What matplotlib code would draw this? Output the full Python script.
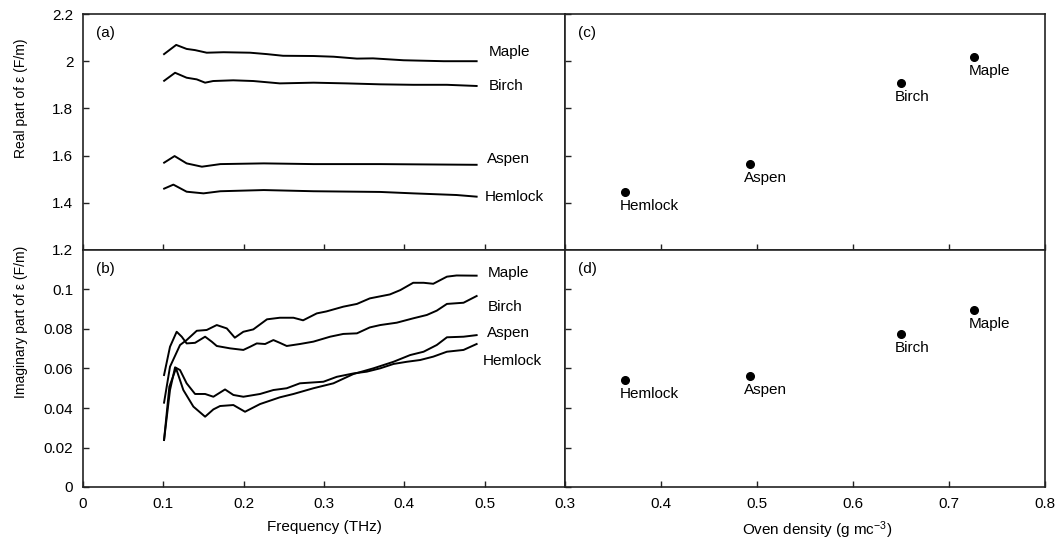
import matplotlib
matplotlib.use("Agg")
import matplotlib.pyplot as plt
import numpy as np

plt.rcParams["font.family"] = ["Liberation Sans", "DejaVu Sans"]
plt.rcParams["mathtext.default"] = "regular"

# ---------------------------------------------------------
# data
# ---------------------------------------------------------

species = ["Hemlock", "Aspen", "Birch", "Maple"]
density = [0.3625, 0.4927, 0.6497, 0.7264]
real_mean = [1.447, 1.564, 1.909, 2.019]
imag_mean = [0.0542, 0.0562, 0.0775, 0.0896]

# (a) real part vs frequency
maple_re_f = [0.1009, 0.116, 0.129, 0.1395, 0.154, 0.175, 0.208, 0.229, 0.249,
              0.287, 0.312, 0.341, 0.361, 0.399, 0.449, 0.490]
maple_re = [2.030, 2.069, 2.052, 2.047, 2.036, 2.038, 2.036, 2.030, 2.023,
            2.022, 2.019, 2.011, 2.012, 2.004, 2.000, 2.000]

birch_re_f = [0.101, 0.1146, 0.129, 0.1416, 0.152, 0.162, 0.187, 0.212, 0.245,
              0.287, 0.328, 0.370, 0.411, 0.453, 0.490]
birch_re = [1.917, 1.951, 1.930, 1.923, 1.909, 1.916, 1.919, 1.916, 1.906,
            1.909, 1.906, 1.902, 1.900, 1.900, 1.895]

aspen_re_f = [0.101, 0.114, 0.129, 0.148, 0.171, 0.225, 0.287, 0.370, 0.490]
aspen_re = [1.570, 1.598, 1.567, 1.553, 1.564, 1.567, 1.564, 1.564, 1.561]

hemlock_re_f = [0.101, 0.1125, 0.129, 0.150, 0.171, 0.225, 0.287, 0.370, 0.411,
                0.465, 0.490]
hemlock_re = [1.460, 1.477, 1.447, 1.440, 1.449, 1.454, 1.449, 1.446, 1.440,
              1.433, 1.426]

# (b) imaginary part vs frequency
maple_im_f = [0.1009, 0.1083, 0.1208, 0.129, 0.1416, 0.154, 0.1665, 0.179, 0.189,
              0.1996, 0.212, 0.229, 0.245, 0.262, 0.274, 0.291, 0.303, 0.324,
              0.341, 0.357, 0.382, 0.395, 0.411, 0.424, 0.436, 0.453, 0.465, 0.490]
maple_im = [0.0427, 0.0609, 0.0719, 0.0744, 0.0791, 0.0795, 0.0820, 0.0803, 0.0756,
            0.0786, 0.0798, 0.0849, 0.0857, 0.0857, 0.0844, 0.0879, 0.0889, 0.0913,
            0.0927, 0.0955, 0.0975, 0.0997, 0.1034, 0.1034, 0.1029, 0.1065, 0.1071,
            0.1070]

birch_im_f = [0.1009, 0.1083, 0.1166, 0.1229, 0.129, 0.1395, 0.152, 0.1602, 0.1665,
              0.1831, 0.1996, 0.208, 0.2163, 0.2267, 0.237, 0.245, 0.2536, 0.270,
              0.2868, 0.3076, 0.324, 0.341, 0.357, 0.370, 0.3906, 0.411, 0.428,
              0.4404, 0.453, 0.4737, 0.490]
birch_im = [0.0567, 0.0710, 0.0786, 0.0761, 0.0727, 0.0730, 0.0761, 0.0736, 0.0714,
            0.0702, 0.0694, 0.0710, 0.0727, 0.0724, 0.0744, 0.0730, 0.0714, 0.0724,
            0.0736, 0.0761, 0.0775, 0.0778, 0.0808, 0.0820, 0.0832, 0.0854, 0.0871,
            0.0893, 0.0927, 0.0933, 0.0967]

hemlock_im_f = [0.1009, 0.1083, 0.1146, 0.1208, 0.129, 0.1395, 0.152, 0.1623, 0.1768,
                0.1872, 0.1996, 0.2204, 0.237, 0.2536, 0.270, 0.2993, 0.316, 0.3366,
                0.3533, 0.370, 0.3865, 0.403, 0.4197, 0.436, 0.453, 0.4737, 0.490]
hemlock_im = [0.0238, 0.0491, 0.0606, 0.0592, 0.0525, 0.0471, 0.0471, 0.0457, 0.0494,
              0.0466, 0.0457, 0.0471, 0.0491, 0.0500, 0.0525, 0.0533, 0.0558, 0.0575,
              0.0584, 0.0601, 0.0623, 0.0634, 0.0643, 0.0660, 0.0685, 0.0694, 0.0724]

aspen_im_f = [0.1009, 0.1075, 0.1158, 0.1249, 0.1374, 0.152, 0.1623, 0.1706, 0.1872,
              0.2017, 0.2204, 0.245, 0.262, 0.2868, 0.3117, 0.3366, 0.3616, 0.3865,
              0.4072, 0.424, 0.4404, 0.453, 0.4737, 0.490]
aspen_im = [0.0238, 0.0508, 0.0601, 0.0491, 0.0407, 0.0356, 0.0393, 0.0410, 0.0415,
            0.0381, 0.0420, 0.0454, 0.0471, 0.0500, 0.0525, 0.0572, 0.0601, 0.0634,
            0.0668, 0.0685, 0.0719, 0.0758, 0.0761, 0.0769]

FS = 11
LW = 1.4

fig = plt.figure(figsize=(10.6, 5.44), dpi=100)

L, M, R = 83 / 1060, 565 / 1060, 1045 / 1060
T, MID, B = 1 - 14 / 544, 1 - 250 / 544, 1 - 487 / 544

ax_a = fig.add_axes([L, MID, M - L, T - MID])
ax_b = fig.add_axes([L, B, M - L, MID - B])
ax_c = fig.add_axes([M, MID, R - M, T - MID])
ax_d = fig.add_axes([M, B, R - M, MID - B])

for ax in (ax_a, ax_b, ax_c, ax_d):
    for s in ax.spines.values():
        s.set_linewidth(1.2)
        s.set_color("#222222")
    ax.tick_params(direction="in", length=4.5, width=1, labelsize=FS, pad=7,
                   colors="#222222", labelcolor="black")
    ax.tick_params(top=False, right=False)

# left column: frequency
for ax in (ax_a, ax_b):
    ax.set_xlim(0, 0.6)
    ax.set_xticks([0, 0.1, 0.2, 0.3, 0.4, 0.5, 0.6])
ax_b.set_xticklabels(["0", "0.1", "0.2", "0.3", "0.4", "0.5", ""])
ax_a.set_xticklabels([])

# right column: density
for ax in (ax_c, ax_d):
    ax.set_xlim(0.3, 0.8)
    ax.set_xticks([0.3, 0.4, 0.5, 0.6, 0.7, 0.8])
    ax.set_yticklabels([])
ax_d.set_xticklabels(["0.3", "0.4", "0.5", "0.6", "0.7", "0.8"])
ax_c.set_xticklabels([])

for ax in (ax_a, ax_c):
    ax.set_ylim(1.2, 2.2)
    ax.set_yticks([1.2, 1.4, 1.6, 1.8, 2.0, 2.2])
ax_a.set_yticklabels(["1.2", "1.4", "1.6", "1.8", "2", "2.2"])
ax_c.set_yticklabels([])

for ax in (ax_b, ax_d):
    ax.set_ylim(0, 0.12)
    ax.set_yticks([0, 0.02, 0.04, 0.06, 0.08, 0.1])
ax_b.set_yticklabels(["0", "0.02", "0.04", "0.06", "0.08", "0.1"])
ax_d.set_yticklabels([])

# (a)
ax_a.plot(maple_re_f, maple_re, color="black", lw=LW)
ax_a.plot(birch_re_f, birch_re, color="black", lw=LW)
ax_a.plot(aspen_re_f, aspen_re, color="black", lw=LW)
ax_a.plot(hemlock_re_f, hemlock_re, color="black", lw=LW)
for name, x, y in [("Maple", 0.5056, 2.039), ("Birch", 0.5056, 1.896),
                   ("Aspen", 0.503, 1.584), ("Hemlock", 0.5006, 1.426)]:
    ax_a.text(x, y, name, fontsize=FS, ha="left", va="center")

# (b)
ax_b.plot(maple_im_f, maple_im, color="black", lw=LW)
ax_b.plot(birch_im_f, birch_im, color="black", lw=LW)
ax_b.plot(aspen_im_f, aspen_im, color="black", lw=LW)
ax_b.plot(hemlock_im_f, hemlock_im, color="black", lw=LW)
for name, x, y in [("Maple", 0.5035, 0.1085), ("Birch", 0.5035, 0.0913),
                   ("Aspen", 0.5025, 0.0781), ("Hemlock", 0.4977, 0.0639)]:
    ax_b.text(x, y, name, fontsize=FS, ha="left", va="center")

# (c), (d)
ax_c.plot(density, real_mean, "o", color="black", ms=5.5)
ax_d.plot(density, imag_mean, "o", color="black", ms=5.5)
for ax, vals in ((ax_c, real_mean), (ax_d, imag_mean)):
    for name, x, y in zip(species, density, vals):
        ax.annotate(name, (x, y), xytext=(-4, -5), textcoords="offset points",
                    fontsize=FS, ha="left", va="top")

for ax, lab in ((ax_a, "(a)"), (ax_b, "(b)"), (ax_c, "(c)"), (ax_d, "(d)")):
    ax.text(0.027, 0.95, lab, transform=ax.transAxes, fontsize=FS,
            ha="left", va="top")

ax_b.set_xlabel("Frequency (THz)", fontsize=FS, labelpad=7)
fig.text(817 / 1060, 1 - 530 / 544, "Oven density (g mc$^{-3}$)", fontsize=FS,
         ha="center", va="center")
fig.text(21 / 1060, 1 - 98 / 544, "Real part of ε (F/m)", fontsize=10,
         rotation=90, ha="center", va="center")
fig.text(21 / 1060, 1 - 322 / 544, "Imaginary part of ε (F/m)", fontsize=10,
         rotation=90, ha="center", va="center")

fig.savefig("out.png", dpi=100)
